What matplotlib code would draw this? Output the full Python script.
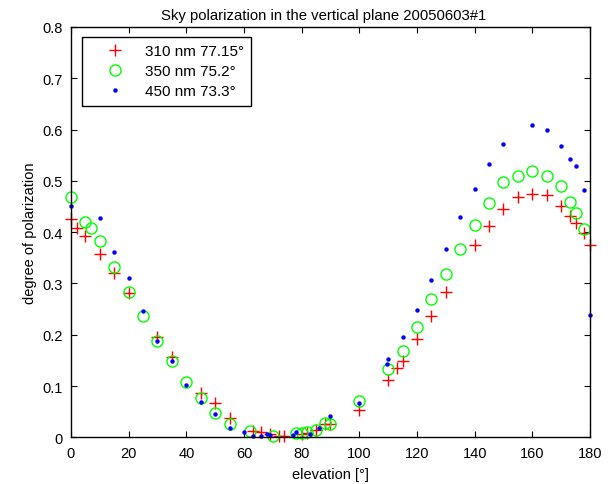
import matplotlib
matplotlib.use("Agg")
import matplotlib.pyplot as plt

plt.rcParams['font.family'] = ['Liberation Sans', 'DejaVu Sans']

title = "Sky polarization in the vertical plane 20050603#1"
labels = ["310 nm 77.15°", "350 nm 75.2°", "450 nm 73.3°"]

x310 = [0, 2, 5, 10, 15, 20, 30, 35, 45, 50, 55, 63, 66, 69, 72, 74, 80, 82, 85, 88, 90,
        100, 110, 113, 115, 120, 125, 130, 140, 145, 150, 155, 160, 165, 170, 173, 175, 178, 180]
y310 = [0.425, 0.408, 0.393, 0.358, 0.320, 0.281, 0.195, 0.157, 0.087, 0.066, 0.037, 0.013,
        0.010, 0.007, 0.003, 0.002, 0.006, 0.009, 0.015, 0.026, 0.025,
        0.054, 0.112, 0.136, 0.149, 0.192, 0.237, 0.284, 0.374, 0.412, 0.445, 0.468, 0.475,
        0.473, 0.451, 0.431, 0.417, 0.398, 0.375]

x350 = [0, 5, 7, 10, 15, 20, 25, 30, 35, 40, 45, 50, 55, 62, 70, 78, 80, 82, 85, 88, 90,
        100, 110, 115, 120, 125, 130, 135, 140, 145, 150, 155, 160, 165, 170, 173, 175, 178]
y350 = [0.468, 0.420, 0.409, 0.382, 0.333, 0.284, 0.237, 0.188, 0.149, 0.108, 0.076, 0.047,
        0.025, 0.013, 0.003, 0.008, 0.009, 0.010, 0.014, 0.027, 0.026,
        0.071, 0.134, 0.169, 0.216, 0.270, 0.318, 0.368, 0.414, 0.456, 0.498, 0.510, 0.520,
        0.510, 0.489, 0.458, 0.437, 0.407]

x450 = [0, 10, 15, 20, 25, 30, 35, 40, 45, 50, 55, 60, 63, 66, 68, 69, 77, 78, 83, 86, 90,
        100, 109.5, 110, 115, 120, 125, 130, 135, 140, 145, 150, 160, 165, 170, 173, 175, 178, 180]
y450 = [0.450, 0.427, 0.361, 0.310, 0.247, 0.187, 0.148, 0.102, 0.069, 0.045, 0.019, 0.011,
        0.003, 0.002, 0.006, 0.004, 0.005, 0.011, 0.006, 0.019, 0.041,
        0.067, 0.142, 0.153, 0.195, 0.249, 0.307, 0.368, 0.429, 0.485, 0.533, 0.571, 0.609,
        0.599, 0.568, 0.543, 0.529, 0.483, 0.239]

xticks = [0, 20, 40, 60, 80, 100, 120, 140, 160, 180]
yticks = [0, 0.1, 0.2, 0.3, 0.4, 0.5, 0.6, 0.7, 0.8]

fig = plt.figure(figsize=(6.12, 4.85), dpi=100)
ax = fig.add_axes([0.116, 0.0963, 0.848, 0.846])

ax.plot(x310, y310, linestyle='none', marker='+', color=(1, 0, 0), markersize=9,
        markeredgewidth=1.0, label=labels[0], clip_on=False)
ax.plot(x350, y350, linestyle='none', marker='o', markerfacecolor='none',
        markeredgecolor=(0, 1, 0), markersize=8, markeredgewidth=1.0, label=labels[1], clip_on=False)
ax.plot(x450, y450, linestyle='none', marker='o', color=(0, 0, 1), markersize=3.2,
        markeredgewidth=0, label=labels[2], clip_on=False)

ax.set_xlim(0, 180)
ax.set_ylim(0, 0.8)
ax.set_xticks(xticks)
ax.set_xticklabels([str(t) for t in xticks])
ax.set_yticks(yticks)
ax.set_yticklabels(['0'] + ['%g' % t for t in yticks[1:]])
ax.tick_params(direction='in', length=4, width=0.8, labelsize=10.5, top=True, right=True,
               pad=6)
for s in ax.spines.values():
    s.set_linewidth(1.0)

ax.set_title(title, fontsize=10.7, pad=6, x=0.4865)
ax.set_xlabel("elevation [°]", fontsize=10.5, labelpad=5)
ax.set_ylabel("degree of polarization", fontsize=10.5, labelpad=4)

leg = ax.legend(loc='upper left', fontsize=11, frameon=True, fancybox=False,
                edgecolor='black', framealpha=1, borderpad=0.5, handletextpad=0.3,
                handlelength=3.3, labelspacing=0.38, borderaxespad=0,
                bbox_to_anchor=(0.021, 0.976))
leg.get_frame().set_linewidth(1.0)

fig.savefig("out.png", dpi=100)
